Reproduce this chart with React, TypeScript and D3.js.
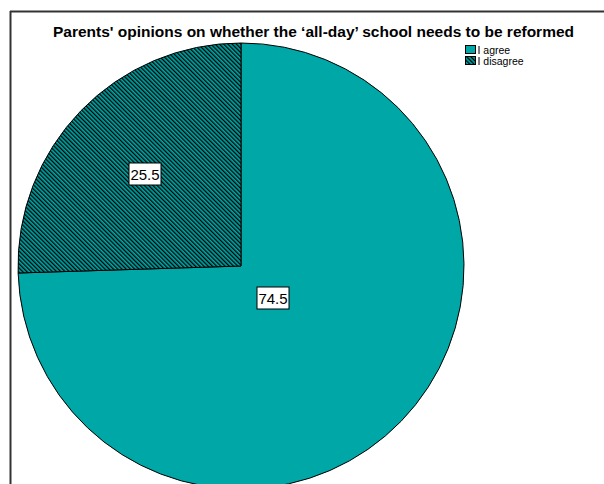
import React from "react";
import * as d3 from "d3";

const categories = ["I agree", "I disagree"];
const values = [74.5, 25.5];
const labels = ["74.5", "25.5"];
const title = "Parents' opinions on whether the \u2018all-day\u2019 school needs to be reformed";

const TEAL = "#00A7A7";

export default function App() {
  const W = 604, H = 484;
  const cx = 241, cy = 266, r = 223;
  const pie = d3.pie<number>().sort(null).value((d) => d)(values);
  const arc = d3.arc<d3.PieArcDatum<number>>().innerRadius(0).outerRadius(r);
  const labelPos = [
    [273, 298],
    [145, 174],
  ];
  const fills = [TEAL, "url(#hatch)"];
  return (
    <svg
      width={W}
      height={H}
      style={{ position: "absolute", left: 0, top: 0, background: "#fff" }}
      fontFamily="Arial, 'Liberation Sans', sans-serif"
    >
      <defs>
        <pattern id="hatch" width="3" height="3" patternUnits="userSpaceOnUse" patternTransform="rotate(-45)">
          <rect width="3" height="3" fill={TEAL} />
          <rect width="1.3" height="3" fill="#000" />
        </pattern>
      </defs>
      <rect x={0} y={0} width={W} height={H} fill="#fff" />
      <line x1={10} x2={W} y1={11.5} y2={11.5} stroke="#333" strokeWidth={2} />
      <line x1={10.5} x2={10.5} y1={11} y2={H} stroke="#333" strokeWidth={2} />
      <text
        x={313.5}
        y={37}
        textAnchor="middle"
        fontWeight="bold"
        fontSize={14}
        fill="#000"
        textLength={521}
        lengthAdjust="spacingAndGlyphs"
      >
        {title}
      </text>
      <g transform={`translate(${cx},${cy})`}>
        {pie.map((p, i) => (
          <path key={categories[i]} d={arc(p) || ""} fill={fills[i]} stroke="#000" strokeWidth={1} />
        ))}
      </g>
      {labels.map((l, i) => (
        <g key={l} transform={`translate(${labelPos[i][0]},${labelPos[i][1]})`}>
          <rect x={-16} y={-11} width={32} height={22} fill="#fff" stroke="#000" strokeWidth={1} />
          <text x={0} y={5.5} textAnchor="middle" fontSize={15} fill="#000">
            {l}
          </text>
        </g>
      ))}
      {categories.map((c, i) => (
        <g key={c} transform={`translate(465.5,${45.5 + i * 11})`}>
          <rect x={0} y={0} width={10} height={8} fill={fills[i]} stroke="#000" strokeWidth={1} />
          <text x={12} y={8} fontSize={10.5} fill="#000">
            {c}
          </text>
        </g>
      ))}
    </svg>
  );
}
